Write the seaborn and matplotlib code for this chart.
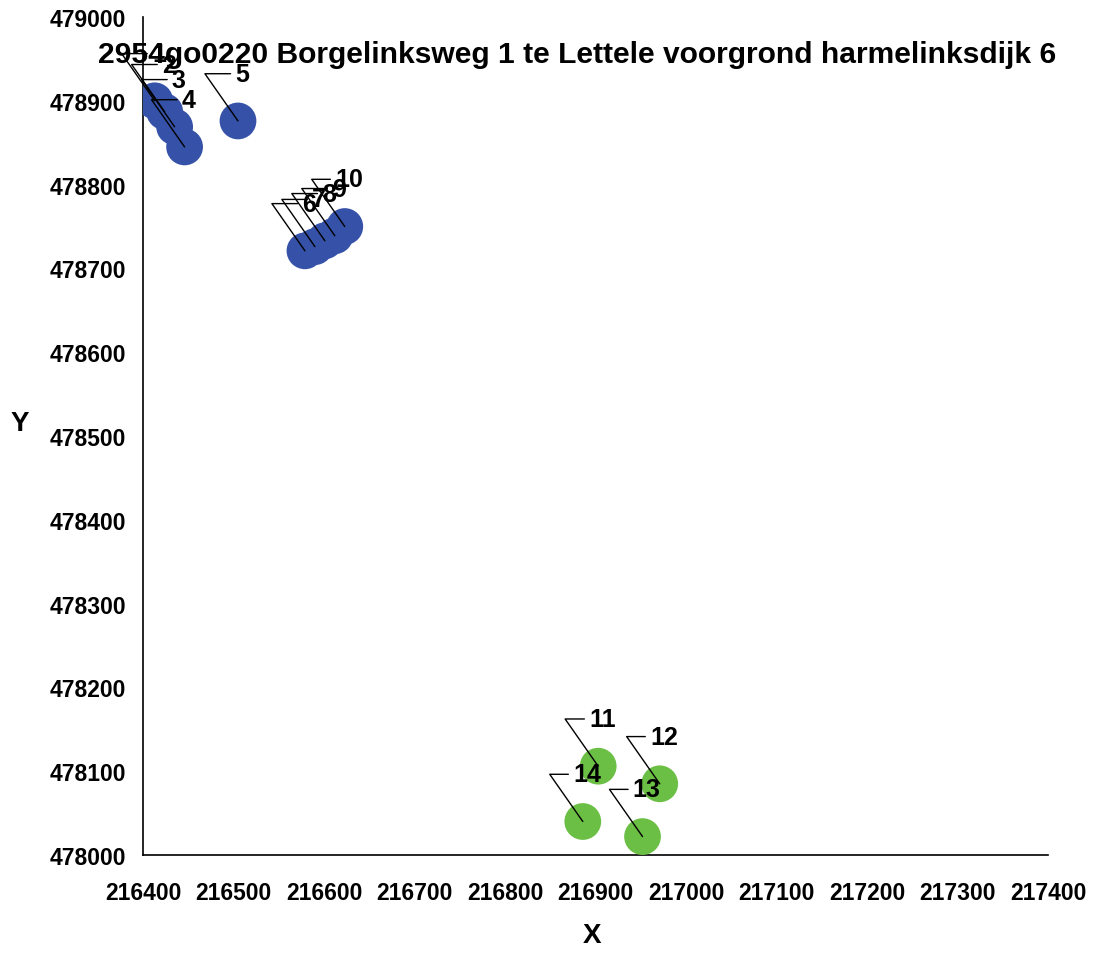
import pandas as pd
import seaborn as sns
import matplotlib.pyplot as plt

# meetpunten
punt_nr = ["1", "2", "3", "4", "5", "6", "7", "8", "9", "10", "11", "12", "13", "14"]
x_coord = [216413, 216424, 216435, 216446, 216505,
           216579, 216590, 216601, 216612, 216623,
           216903, 216971, 216952, 216886]
y_coord = [478900, 478887, 478869, 478845, 478876,
           478721, 478726, 478733, 478739, 478750,
           478106, 478085, 478022, 478040]
groep = ["voorgrond"] * 10 + ["harmelinksdijk"] * 4

titel = "2954go0220 Borgelinksweg 1 te Lettele voorgrond harmelinksdijk 6"

df = pd.DataFrame({"X": x_coord, "Y": y_coord, "nr": punt_nr, "groep": groep})

sns.set_style("white")
plt.rcParams["font.family"] = ["Liberation Sans", "DejaVu Sans"]
plt.rcParams["font.weight"] = "bold"
plt.rcParams["text.color"] = "black"
plt.rcParams["axes.labelcolor"] = "black"

fig = plt.figure(figsize=(10.93, 9.54), dpi=100)
ax = fig.add_axes([0.1308, 0.1027, 0.828, 0.8784])

sns.scatterplot(data=df, x="X", y="Y", hue="groep",
                palette={"voorgrond": "#3552a8", "harmelinksdijk": "#6cbf45"},
                s=700, linewidth=0, alpha=1, legend=False, ax=ax, zorder=3)

# labels met verbindingslijntjes
for _, r in df.iterrows():
    ax.annotate(r["nr"], xy=(r["X"], r["Y"]), xytext=(3, 34),
                textcoords="offset points", ha="center", va="center",
                fontsize=18, fontweight="bold", color="black", zorder=5,
                arrowprops=dict(arrowstyle="-", color="black", lw=1,
                                shrinkA=1, shrinkB=0,
                                connectionstyle="angle,angleA=0,angleB=125,rad=0"))

ax.set_xlim(216400, 217400)
ax.set_ylim(478000, 479000)
ax.set_xticks(range(216400, 217401, 100))
ax.set_yticks(range(478000, 479001, 100))
ax.tick_params(direction="inout", length=12, width=1.2, colors="black",
               labelsize=16.5)
ax.tick_params(axis="x", pad=13)
ax.tick_params(axis="y", pad=6)
for lab in ax.get_xticklabels() + ax.get_yticklabels():
    lab.set_fontweight("bold")

for s in ["top", "right"]:
    ax.spines[s].set_visible(False)
for s in ["left", "bottom"]:
    ax.spines[s].set_color("black")
    ax.spines[s].set_linewidth(1.2)

ax.set_xlabel("X", fontsize=20, fontweight="bold")
ax.set_ylabel("Y", fontsize=20, fontweight="bold", rotation=0)
ax.xaxis.set_label_coords(0.496, -0.080)
ax.yaxis.set_label_coords(-0.136, 0.5)

fig.text(0.528, 0.942, titel, ha="center", va="center",
         fontsize=21.6, fontweight="bold", color="black")

fig.savefig("out.png", dpi=100, facecolor="white")
